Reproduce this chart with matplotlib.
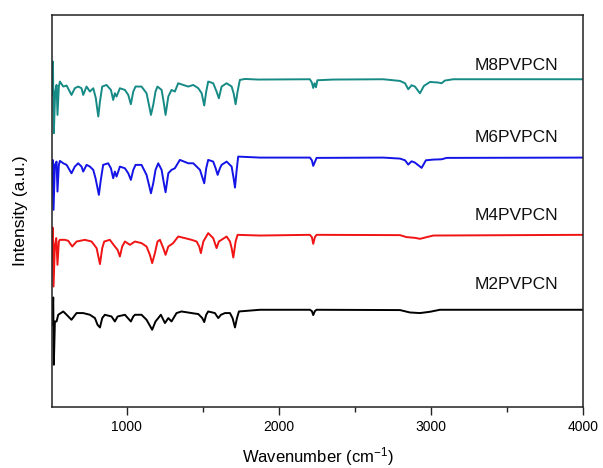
import matplotlib
matplotlib.use("Agg")
import matplotlib.pyplot as plt
from matplotlib.ticker import FixedLocator

plt.rcParams['font.family'] = ['Liberation Sans', 'DejaVu Sans']
plt.rcParams['mathtext.default'] = 'regular'

# ---------------- data (wavenumber cm-1, relative intensity) ----------------
m8_wn = [511, 516, 522, 531, 540, 546, 555, 562, 584, 606, 638, 660, 682, 704, 715, 737, 759, 781,
         798, 805, 814, 825, 840, 868, 897, 912, 923, 934, 956, 989, 1011, 1028, 1044, 1059, 1098,
         1131, 1147, 1160, 1175, 1190, 1203, 1230, 1243, 1256, 1274, 1295, 1317, 1339, 1372, 1405,
         1438, 1471, 1493, 1510, 1523, 1536, 1569, 1591, 1606, 1624, 1657, 1690, 1703, 1716, 1729,
         1744, 1777, 1865, 2204, 2217, 2226, 2235, 2244, 2253, 2358, 2686, 2796, 2829, 2850, 2872,
         2894, 2927, 2953, 2993, 3048, 3069, 3091, 3146, 4000]
m8_int = [-15.7, 17.7, -54, -12.3, -5.7, -35.7, -7.3, -2.3, -7.3, -6.3, -15.7, -9, -7.3, -9, -15.7,
          -7.3, -12.3, -9, -19, -27.3, -37.3, -22.3, -7.3, -5.7, -10.7, -20.7, -14, -17.3, -9, -10.7,
          -15.7, -25, -12.3, -7.3, -7.3, -14, -25.7, -35.7, -25.7, -12.3, -7.3, -10.7, -22.3, -35.7,
          -17.3, -10.7, -12.3, -4, -5.7, -7.3, -5.7, -9, -14, -26.3, -12.3, -2.3, -4, -12.3, -19,
          -7.3, -4, -7.3, -14, -25, -12.3, -0.7, 0.3, -0.3, 0, -3.3, -8.7, -4, -8, -1, -0.3, 0, -1.7,
          -4, -10, -6, -7.3, -14, -6.7, -2.7, -3.3, -4, -1.3, 0, 0]

m6_wn = [509, 514, 520, 529, 540, 546, 555, 562, 584, 606, 638, 660, 682, 704, 715, 737, 759, 781,
         796, 807, 818, 829, 846, 879, 897, 912, 923, 934, 956, 989, 1011, 1028, 1044, 1059, 1098,
         1131, 1147, 1160, 1175, 1190, 1208, 1230, 1243, 1256, 1274, 1295, 1317, 1350, 1405, 1438,
         1482, 1510, 1523, 1536, 1569, 1585, 1598, 1613, 1624, 1657, 1690, 1703, 1712, 1722, 1733,
         1777, 1876, 2204, 2217, 2226, 2237, 2248, 2686, 2796, 2829, 2850, 2872, 2894, 2938, 2966,
         3015, 3069, 3102, 4000]
m6_int = [-17.3, -2.3, -52.3, -7.3, -4, -34, -7.3, -3.3, -5.7, -7.3, -15.7, -9, -5.7, -9, -14, -7.3,
          -9, -12.3, -20.7, -29, -37.3, -24, -7.3, -5.7, -10.7, -20.7, -14, -19, -9, -10.7, -15.7,
          -22.3, -12.3, -7.3, -7.3, -17.3, -27.3, -35.7, -25.7, -12.3, -5.7, -12.3, -24, -34.7,
          -15.7, -12.3, -10.7, -2.3, -5.7, -5.7, -12.3, -25.7, -10.7, -2.3, -4, -10.7, -17.3, -10.7,
          -7.3, -4, -9, -20.7, -30, -14, 1, 0.7, 0, 0, -2.7, -8.3, -4.3, -0.3, 0, -1, -2.7, -7,
          -3.7, -5, -10.3, -2.7, -2, -1.7, -0.3, 0]

m4_wn = [509, 514, 520, 529, 538, 546, 555, 562, 595, 617, 643, 671, 726, 770, 803, 825, 840, 853,
         890, 923, 941, 956, 971, 989, 1022, 1055, 1098, 1131, 1153, 1168, 1186, 1203, 1219, 1241,
         1256, 1274, 1306, 1339, 1383, 1427, 1460, 1477, 1488, 1504, 1536, 1569, 1591, 1606, 1657,
         1679, 1690, 1701, 1716, 1729, 1876, 2204, 2217, 2226, 2237, 2248, 2796, 2839, 2894, 2927,
         2971, 3015, 4000]
m4_int = [-20, 7.3, -51.7, -10, -3.3, -30, -6.7, -5, -5, -6, -11.7, -6.7, -5, -6.7, -13.3, -29.3,
          -13.3, -6.7, -5, -11.7, -15, -21.7, -11.7, -6.7, -10, -6.7, -8.3, -11.7, -20, -28.3,
          -18.3, -6.7, -5, -13.3, -20, -11.7, -8.3, -1.7, -3.3, -5, -6.7, -11.7, -18.3, -6.7, 1.7,
          -3.3, -13.3, -6.7, -1.7, -6.7, -13.3, -22.7, -6.7, 0, -0.7, 0, -2.3, -9, -2.3, 0, -0.3,
          -2.3, -3, -4, -2.3, -0.7, 0]

m2_wn = [511, 518, 522, 529, 540, 551, 584, 606, 638, 671, 715, 759, 792, 809, 825, 840, 857, 901,
         923, 941, 989, 1028, 1044, 1055, 1098, 1131, 1168, 1190, 1208, 1225, 1252, 1274, 1295,
         1328, 1361, 1427, 1471, 1497, 1510, 1523, 1536, 1580, 1602, 1620, 1646, 1679, 1696, 1712,
         1725, 1738, 1876, 2204, 2217, 2226, 2237, 2248, 2796, 2861, 2927, 2993, 3058, 4000]
m2_int = [-15, 12.3, -55, -11.7, -11.7, -5, -1.7, -5, -10, -3.3, -3.3, -5, -8.3, -15, -17.7, -8.3,
          -5, -6.7, -11.7, -6.7, -5, -11.7, -6.7, -5, -5, -10, -20, -11.7, -8.3, -5, -13.3, -8.3,
          -11.7, -3.3, -1.7, -3.3, -4.3, -8.3, -12.3, -5, -1.7, -3.3, -8.3, -5, -3.3, -3.3, -8.3,
          -17.7, -8.3, -1.7, 0, 0, -1.3, -5.3, -1.3, 0, -0.3, -2.7, -3.3, -2, 0, 0]

names = ["M8PVPCN", "M6PVPCN", "M4PVPCN", "M2PVPCN"]
offsets = [327.7, 249.3, 172.0, 97.0]
label_y = [341, 269, 191, 122]

series = [(m8_wn, m8_int), (m6_wn, m6_int), (m4_wn, m4_int), (m2_wn, m2_int)]
colors = ["#168a85", "#1414e6", "#f01414", "#000000"]

# ---------------- figure ----------------
fig = plt.figure(figsize=(6.03, 4.68), dpi=100)
ax = fig.add_axes([52 / 603, (468 - 406.7) / 468, (583.3 - 52) / 603, (406.7 - 15) / 468])

for (wn, inten), off, col, name, ly in zip(series, offsets, colors, names, label_y):
    ax.plot(wn, [v + off for v in inten], color=col, lw=1.4, solid_joinstyle='round')
    ax.text(3834, ly, name, ha='right', va='center', fontsize=12.5, color='#111111')

ax.set_xlim(510, 4000)
ax.set_ylim(0, 392)
ax.xaxis.set_major_locator(FixedLocator([1000, 2000, 3000, 4000]))
ax.xaxis.set_minor_locator(FixedLocator([1500, 2500, 3500]))
ax.set_yticks([])
ax.tick_params(axis='x', which='major', direction='out', length=5.5, width=1.0,
               labelsize=10, pad=4, color='#222222')
ax.tick_params(axis='x', which='minor', direction='out', length=3.5, width=1.0, color='#222222')
ax.tick_params(top=False, right=False)
for sp in ax.spines.values():
    sp.set_linewidth(1.1)
    sp.set_color('#222222')

ax.set_xlabel("Wavenumber (cm$^{-1}$)", fontsize=12, labelpad=8)
ax.set_ylabel("Intensity (a.u.)", fontsize=12.5, labelpad=17)

fig.savefig("out.png", dpi=100)
